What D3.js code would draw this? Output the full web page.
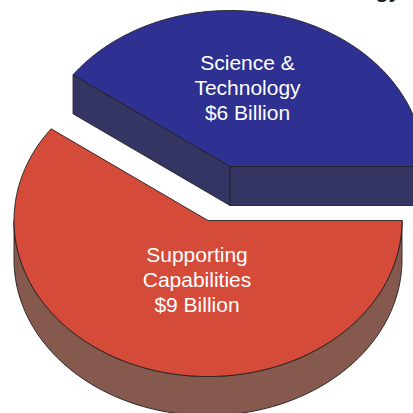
<!DOCTYPE html>
<html>
<head>
<meta charset="utf-8">
<script src="https://cdn.jsdelivr.net/npm/d3@7/dist/d3.min.js"></script>
<style>
html, body { margin: 0; padding: 0; background: #fff; overflow: hidden; }
svg { display: block; }
text { font-family: "Liberation Sans", Arial, sans-serif; }
</style>
</head>
<body>
<script>
const categories = ["Science & Technology", "Supporting Capabilities"];
const values = [6, 9];
const labelLines = [
  ["Science &", "Technology", "$6 Billion"],
  ["Supporting", "Capabilities", "$9 Billion"]
];
const topColors = ["#2e3192", "#d44b3a"];
const wallColors = ["#343562", "#85594e"];
const sliceCenters = [[230, 166.5], [208, 220.5]];
const labelCenters = [[247.5, 63], [197, 255]];
const titleFragment = "gy";

const W = 413, H = 413;
const rx = 194, ry = 156, depth = 39;
const edge = "#231f20";
const deg = Math.PI / 180;

const svg = d3.select("body").append("svg").attr("width", W).attr("height", H);

// Pie layout: blue slice runs from upper left, over the top, to due right.
const slices = d3.pie().sort(null).value(d => d)
  .startAngle(-54 * deg).endAngle(306 * deg)(values);

const xs = d3.scaleLinear().domain([-1, 1]).range([-rx, rx]);
const ys = d3.scaleLinear().domain([-1, 1]).range([-ry, ry]);
// Point on the tilted disc; angle measured clockwise from twelve o'clock.
const rim = a => [xs(Math.sin(a)), ys(-Math.cos(a))];

const line = d3.line();

function topPath(s) {
  const n = 180, pts = [[0, 0]];
  for (let i = 0; i <= n; i++) pts.push(rim(s.startAngle + (s.endAngle - s.startAngle) * i / n));
  return line(pts) + "Z";
}

// Extruded outer wall, limited to the part of the rim that faces the viewer.
function outerWall(s) {
  const a0 = Math.max(s.startAngle, 90 * deg), a1 = Math.min(s.endAngle, 270 * deg);
  if (a1 <= a0) return null;
  const n = 120, upper = [], lower = [];
  for (let i = 0; i <= n; i++) {
    const p = rim(a0 + (a1 - a0) * i / n);
    upper.push(p);
    lower.unshift([p[0], p[1] + depth]);
  }
  return line(upper.concat(lower)) + "Z";
}

// Extruded radial cut face.
function cutWall(a) {
  const p = rim(a);
  return line([[0, 0], p, [p[0], p[1] + depth], [0, depth]]) + "Z";
}

// Text of the line running above the pie, cut off by the top of the page.
svg.append("text").attr("x", 388).attr("y", -3)
  .attr("text-anchor", "middle").attr("font-size", 22).attr("font-weight", "bold")
  .attr("fill", edge).text(titleFragment);

slices.forEach((s, i) => {
  const g = svg.append("g").attr("transform", `translate(${sliceCenters[i]})`);
  const walls = [];
  if (i === 0) { walls.push(cutWall(s.startAngle), cutWall(s.endAngle)); }
  const ow = outerWall(s);
  if (ow) walls.push(ow);
  walls.forEach(d => g.append("path").attr("d", d)
    .attr("fill", wallColors[i]).attr("stroke", edge).attr("stroke-width", 0.9).attr("stroke-linejoin", "round"));
  g.append("path").attr("d", topPath(s))
    .attr("fill", topColors[i]).attr("stroke", edge).attr("stroke-width", 0.9).attr("stroke-linejoin", "round");
});

labelLines.forEach((lines, i) => {
  const t = svg.append("text").attr("text-anchor", "middle").attr("fill", "#fff")
    .attr("font-size", 21);
  lines.forEach((l, j) => t.append("tspan")
    .attr("x", labelCenters[i][0]).attr("y", labelCenters[i][1] + 7 + j * 25).text(l));
});
</script>
</body>
</html>
